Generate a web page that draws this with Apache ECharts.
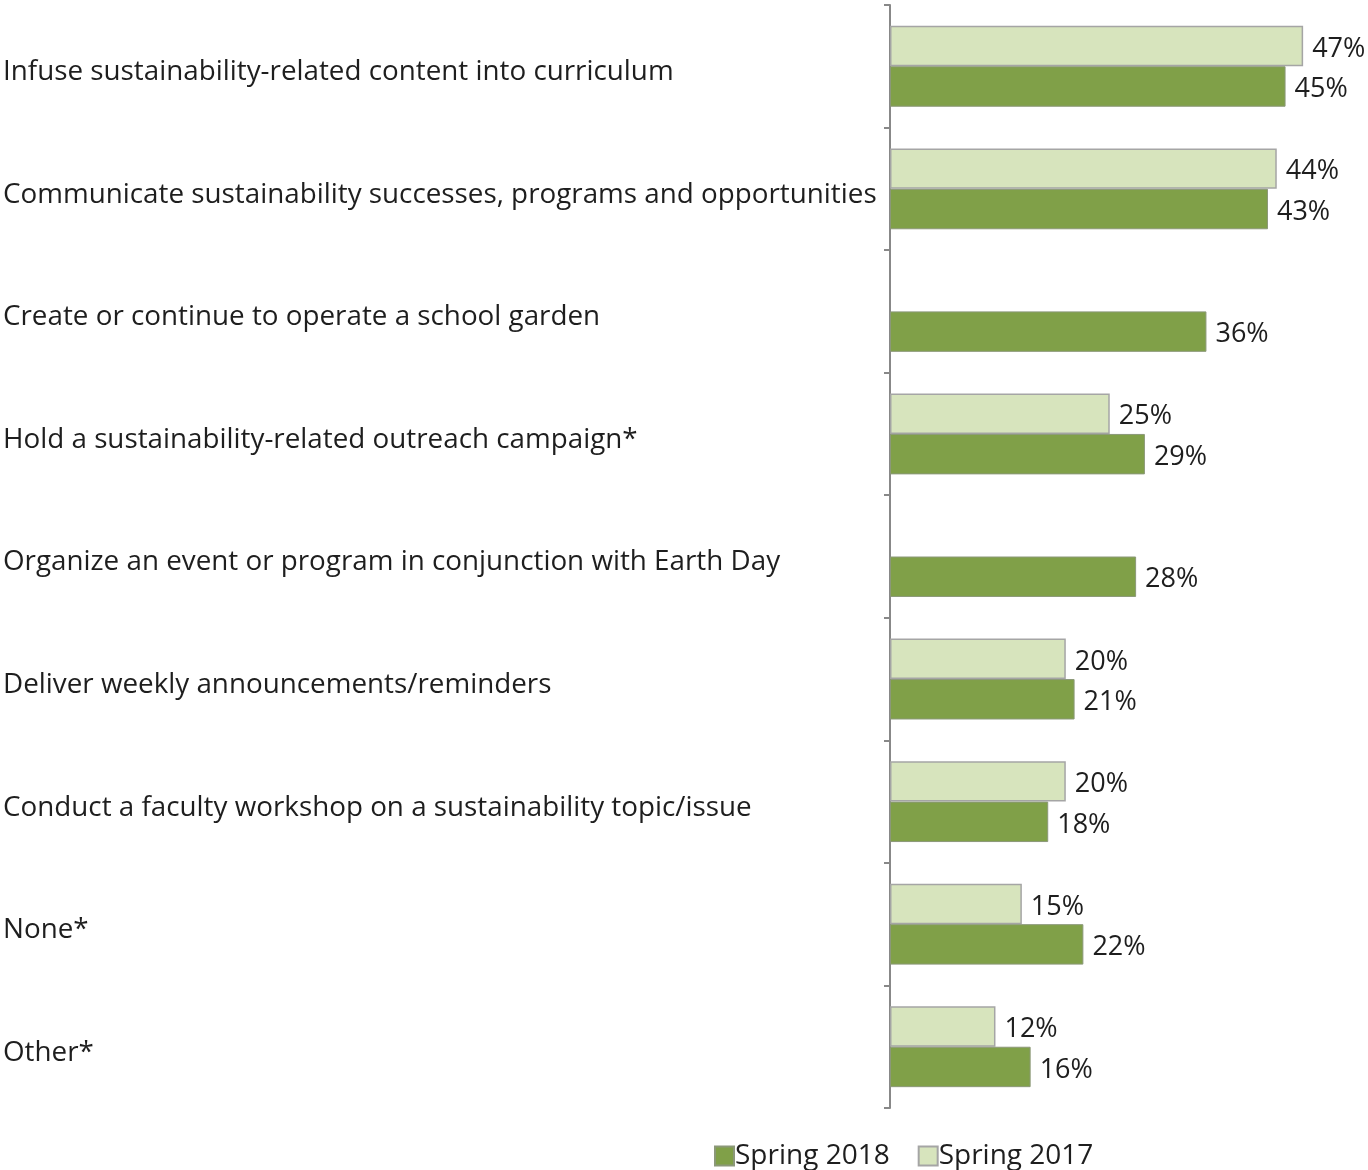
<!DOCTYPE html>
<html>
<head>
<meta charset="utf-8">
<title>Sustainability activities</title>
<script src="https://cdn.jsdelivr.net/npm/echarts@6/dist/echarts.min.js"></script>
<style>
  html, body { margin: 0; padding: 0; background: #fff; }
  #chart { width: 1368px; height: 1170px; }
</style>
</head>
<body>
<div id="chart"></div>
<script>
// Activities planned, share of respondents
const categories = [
  'Infuse sustainability-related content into curriculum',
  'Communicate sustainability successes, programs and opportunities',
  'Create or continue to operate a school garden',
  'Hold a sustainability-related outreach campaign*',
  'Organize an event or program in conjunction with Earth Day',
  'Deliver weekly announcements/reminders',
  'Conduct a faculty workshop on a sustainability topic/issue',
  'None*',
  'Other*'
];
const spring2017 = [47, 44, null, 25, null, 20, 20, 15, 12];
const spring2018 = [45, 43, 36, 29, 28, 21, 18, 22, 16];

const FONT = '"Open Sans", "Noto Sans", sans-serif';
const TEXT = '#1e1e1e';

const chart = echarts.init(document.getElementById('chart'), null, { renderer: 'canvas' });

const labelOpt = {
  show: true,
  position: 'right',
  distance: 9,
  offset: [0, 3],
  color: TEXT,
  fontFamily: FONT,
  fontSize: 27,
  formatter: p => (p.value == null ? '' : p.value + '%')
};

chart.setOption({
  animation: false,
  backgroundColor: '#fff',
  grid: { left: 889, top: 5, width: 440.5, height: 1103, containLabel: false },
  legend: {
    data: ['Spring 2018', 'Spring 2017'],
    left: 709,
    top: 1137,
    icon: 'rect',
    itemWidth: 19,
    itemHeight: 19,
    itemGap: 28,
    textStyle: { color: TEXT, fontFamily: FONT, fontSize: 28, padding: [0, 0, 0, -4] }
  },
  xAxis: {
    type: 'value',
    min: 0,
    max: 50,
    show: false
  },
  yAxis: {
    type: 'category',
    inverse: true,
    data: categories,
    axisLine: { show: true, lineStyle: { color: '#888', width: 2 } },
    axisTick: { show: true, inside: false, length: 6, lineStyle: { color: '#888', width: 2 } },
    axisLabel: {
      margin: 887,
      align: 'left',
      formatter: v => '{c|' + v + '}',
      rich: {
        c: {
          color: TEXT,
          fontFamily: FONT,
          fontSize: 27.8,
          padding: [12, 0, 0, 0]
        }
      }
    }
  },
  series: [
    {
      name: 'Spring 2017',
      type: 'bar',
      data: spring2017,
      barGap: '0%',
      barCategoryGap: '34%',
      itemStyle: { color: '#d7e4bd', borderColor: '#a5a5a5', borderWidth: 1.5 },
      label: labelOpt
    },
    {
      name: 'Spring 2018',
      type: 'bar',
      data: spring2018,
      barGap: '0%',
      barCategoryGap: '34%',
      itemStyle: { color: '#80a048', borderColor: '#8b9878', borderWidth: 1 },
      label: labelOpt
    }
  ]
});
</script>
</body>
</html>
